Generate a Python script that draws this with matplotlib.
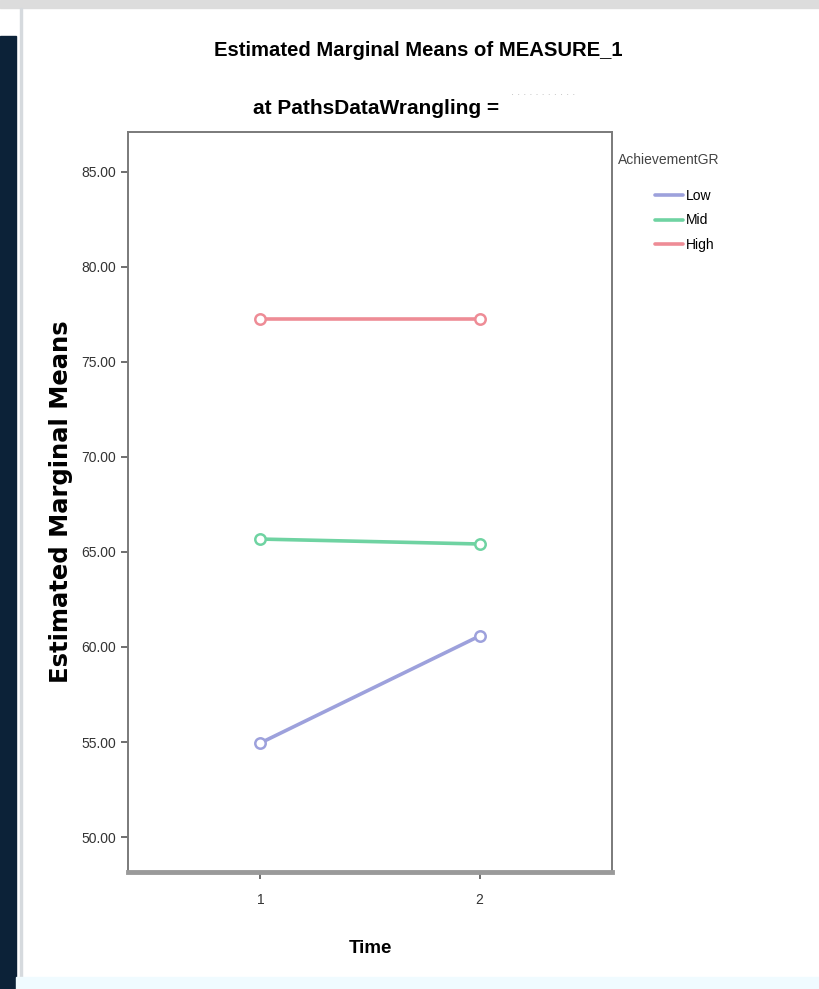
import matplotlib
matplotlib.use("Agg")
import matplotlib.pyplot as plt
from matplotlib import font_manager
from matplotlib.patches import Rectangle

# data
time_points = [1, 2]
groups = ["Low", "Mid", "High"]
low_means = [54.95, 60.58]
mid_means = [65.68, 65.42]
high_means = [77.24, 77.24]
y_ticks = [50, 55, 60, 65, 70, 75, 80, 85]

colors = {"Low": "#9da1dc", "Mid": "#6fd3a2", "High": "#ee8c96"}

names = {f.name for f in font_manager.fontManager.ttflist}
narrow = "Liberation Sans Narrow" if "Liberation Sans Narrow" in names else "Liberation Sans"

fig = plt.figure(figsize=(8.2, 9.89), dpi=100)
fig.patch.set_facecolor("white")

# screenshot frame bits
fig.patches.append(Rectangle((0, 1 - 8 / 989), 1, 8 / 989, transform=fig.transFigure,
                             color="#dcdcdc", zorder=0))
fig.patches.append(Rectangle((0, 0), 16 / 820, 1 - 36 / 989, transform=fig.transFigure,
                             color="#0c2238", zorder=0))
fig.patches.append(Rectangle((20 / 820, 0), 2 / 820, 1 - 8 / 989, transform=fig.transFigure,
                             color="#d6dade", zorder=0))
fig.patches.append(Rectangle((16 / 820, 0), 1, 12 / 989, transform=fig.transFigure,
                             color="#f0fbff", zorder=0))

ax = fig.add_axes([128 / 820, 1 - 872 / 989, 484 / 820, 740 / 989])

series = {"Low": low_means, "Mid": mid_means, "High": high_means}
for g in groups:
    ax.plot(time_points, series[g], color=colors[g], lw=2.6, marker="o", ms=7.5,
            mfc="white", mec=colors[g], mew=1.8, label=g, solid_capstyle="round")

ax.set_xlim(0.396, 2.604)
ax.set_ylim(48.16, 87.1)
ax.set_xticks(time_points)
ax.set_xticklabels([str(t) for t in time_points], family=narrow, fontsize=10, color="#333333")
ax.set_yticks(y_ticks)
ax.set_yticklabels(["%.2f" % v for v in y_ticks], family=narrow, fontsize=10, color="#333333")
ax.tick_params(direction="out", length=5, width=1.2, color="#555555")
ax.tick_params(axis="x", pad=10)
for s in ["left", "top", "right"]:
    ax.spines[s].set_color("#7a7a7a")
    ax.spines[s].set_linewidth(1.4)
ax.spines["bottom"].set_color("#9a9a9a")
ax.spines["bottom"].set_linewidth(3.5)

ax.set_xlabel("Time", family=narrow, fontweight="bold", fontsize=13.5, labelpad=24)
ax.set_ylabel("Estimated Marginal Means", family="DejaVu Sans", fontweight="bold",
              fontsize=17.5, labelpad=6)

fig.text(418 / 820, 1 - 50 / 989, "Estimated Marginal Means of MEASURE_1", family=narrow,
         fontweight="bold", fontsize=14.6, ha="center", va="center")
fig.text(376 / 820, 1 - 108 / 989, "at PathsDataWrangling =", family=narrow,
         fontweight="bold", fontsize=15, ha="center", va="center")
fig.text(543 / 820, 1 - 92 / 989, ". . . . . . . . . . .", family=narrow, fontsize=8,
         color="#bbbbbb", ha="center", va="center")

fig.text(618 / 820, 1 - 160 / 989, "AchievementGR", family=narrow, fontsize=10,
         color="#444444", ha="left", va="center")
leg = ax.legend(loc="upper left", bbox_to_anchor=(655 / 820, 1 - 189 / 989),
                bbox_transform=fig.transFigure, frameon=False, borderpad=0,
                borderaxespad=0, handlelength=2.0, handletextpad=0.2,
                labelspacing=0.75, prop={"family": narrow, "size": 10})
for h in leg.legend_handles:
    h.set_marker("")

fig.savefig("out.png", dpi=100)
